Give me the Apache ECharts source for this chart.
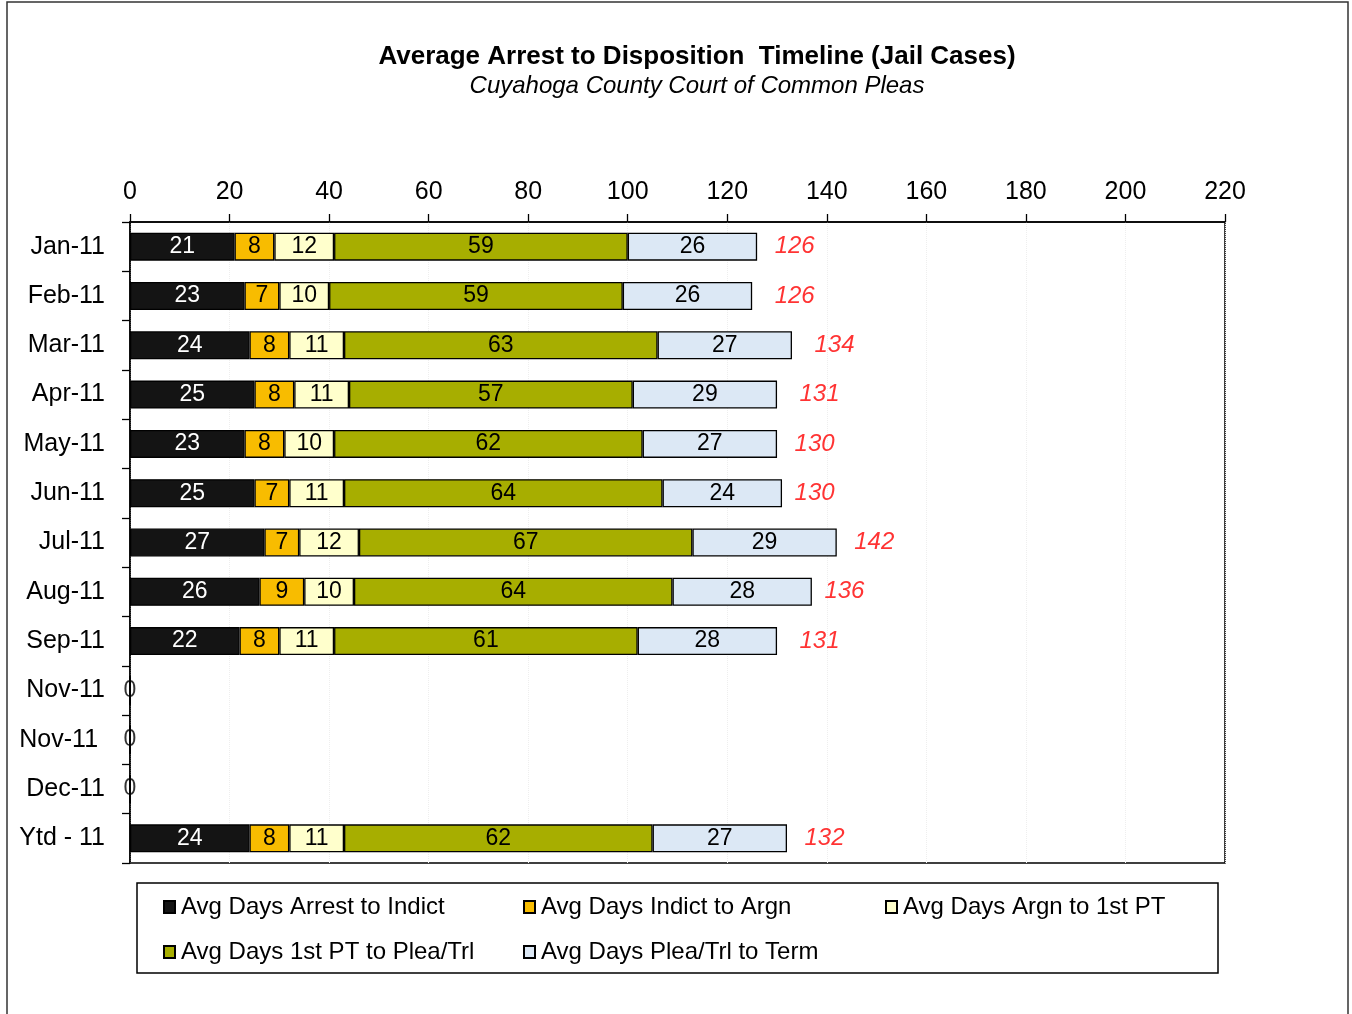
<!DOCTYPE html>
<html>
<head>
<meta charset="utf-8">
<script src="https://cdn.jsdelivr.net/npm/echarts@6/dist/echarts.min.js"></script>
<style>
  html, body { margin: 0; padding: 0; background: #fff; }
  #main { width: 1352px; height: 1014px; }
</style>
</head>
<body>
<div id="main"></div>
<script>
// categories (top to bottom)
var months = ['Jan-11', 'Feb-11', 'Mar-11', 'Apr-11', 'May-11', 'Jun-11', 'Jul-11',
  'Aug-11', 'Sep-11', 'Nov-11', 'Nov-11 ', 'Dec-11', 'Ytd - 11'];

var arrestToIndict = [21, 23, 24, 25, 23, 25, 27, 26, 22, 0, 0, 0, 24];
var indictToArgn   = [8, 7, 8, 8, 8, 7, 7, 9, 8, 0, 0, 0, 8];
var argnTo1stPT    = [12, 10, 11, 11, 10, 11, 12, 10, 11, 0, 0, 0, 11];
var ptToPleaTrl    = [59, 59, 63, 57, 62, 64, 67, 64, 61, 0, 0, 0, 62];
var pleaTrlToTerm  = [26, 26, 27, 29, 27, 24, 29, 28, 28, 0, 0, 0, 27];
var totals         = [126, 126, 134, 131, 130, 130, 142, 136, 131, null, null, null, 132];

var seriesNames = ['Avg Days Arrest to Indict', 'Avg Days Indict to Argn', 'Avg Days Argn to 1st PT',
  'Avg Days 1st PT to Plea/Trl', 'Avg Days Plea/Trl to Term'];
var seriesColors = ['#141414', '#F8BC00', '#FFFFCC', '#A7AE00', '#DCE8F5'];

var FONT = '"Liberation Sans", Arial, sans-serif';

var myChart = echarts.init(document.getElementById('main'));

function makeBar(i, data) {
  return {
    name: seriesNames[i],
    type: 'bar',
    stack: 'total',
    barWidth: 28,
    data: data,
    itemStyle: { color: seriesColors[i], borderColor: '#000', borderWidth: 1.3 },
    label: {
      show: true,
      position: 'inside',
      fontFamily: FONT,
      fontSize: 23,
      color: i === 0 ? '#fff' : '#000',
      formatter: function (p) { return p.value ? p.value : ''; }
    },
    emphasis: { disabled: true }
  };
}

var totalPoints = [];
var zeroPoints = [];
for (var k = 0; k < totals.length; k++) {
  if (totals[k] != null) totalPoints.push([totals[k], k]);
  if (arrestToIndict[k] === 0) zeroPoints.push([0, k]);
}

var legendPos = [[163, 895], [523, 895], [885, 895], [163, 940], [523, 940]];
var legends = seriesNames.map(function (n, i) {
  return {
    data: [n],
    left: legendPos[i][0],
    top: legendPos[i][1],
    padding: 0,
    itemWidth: 11,
    itemHeight: 12,
    itemGap: 4,
    icon: 'rect',
    selectedMode: false,
    textStyle: { fontFamily: FONT, fontSize: 24, color: '#000', padding: [0, 0, 0, 1] }
  };
});

var option = {
  animation: false,
  backgroundColor: '#fff',
  title: [
    {
      text: 'Average Arrest to Disposition  Timeline (Jail Cases)',
      left: 692, top: 39, textAlign: 'center',
      textStyle: { fontFamily: FONT, fontSize: 26, fontWeight: 'bold', color: '#000' }
    },
    {
      text: 'Cuyahoga County Court of Common Pleas',
      left: 692, top: 69, textAlign: 'center',
      textStyle: { fontFamily: FONT, fontSize: 24, fontStyle: 'italic', fontWeight: 'normal', color: '#000' }
    }
  ],
  legend: legends,
  graphic: [
    { type: 'rect', shape: { x: 7, y: 2, width: 1341, height: 1030 }, style: { fill: 'none', stroke: '#333', lineWidth: 1.5 }, silent: true },
    { type: 'rect', shape: { x: 137, y: 883, width: 1081, height: 90 }, style: { fill: 'none', stroke: '#000', lineWidth: 1.5 }, silent: true }
  ],
  grid: {
    left: 130, right: 127, top: 222, bottom: 151,
    show: true, borderColor: '#000', borderWidth: 1.5, backgroundColor: 'transparent'
  },
  xAxis: {
    type: 'value',
    position: 'top',
    min: 0, max: 220, interval: 20,
    axisLine: { show: true, lineStyle: { color: '#000', width: 1.5 } },
    axisTick: { show: true, inside: false, length: 8, lineStyle: { color: '#000', width: 1.3 } },
    splitLine: { show: true, lineStyle: { color: '#eeeeee', width: 1, type: 'dotted' } },
    axisLabel: { fontFamily: FONT, fontSize: 25, color: '#000', margin: 17 }
  },
  yAxis: {
    type: 'category',
    inverse: true,
    data: months,
    axisLine: { show: true, lineStyle: { color: '#000', width: 1.5 } },
    axisTick: { show: true, length: 8, lineStyle: { color: '#000', width: 1.3 } },
    axisLabel: { fontFamily: FONT, fontSize: 25, color: '#000', margin: 25 }
  },
  series: [
    makeBar(0, arrestToIndict),
    makeBar(1, indictToArgn),
    makeBar(2, argnTo1stPT),
    makeBar(3, ptToPleaTrl),
    makeBar(4, pleaTrlToTerm),
    {
      name: 'Total',
      type: 'scatter',
      data: totalPoints,
      symbolSize: 1,
      itemStyle: { color: 'rgba(0,0,0,0)' },
      label: {
        show: true,
        position: 'right',
        distance: 17,
        fontFamily: FONT,
        fontSize: 24,
        fontStyle: 'italic',
        color: '#ff0000',
        formatter: function (p) { return p.value[0]; }
      },
      emphasis: { disabled: true },
      z: 5
    },
    {
      name: 'Zero',
      type: 'scatter',
      data: zeroPoints,
      symbolSize: 1,
      itemStyle: { color: 'rgba(0,0,0,0)' },
      label: {
        show: true,
        position: 'inside',
        fontFamily: FONT,
        fontSize: 23,
        color: '#000',
        formatter: function (p) { return p.value[0]; }
      },
      emphasis: { disabled: true },
      z: 5
    }
  ]
};

myChart.setOption(option);
</script>
</body>
</html>
